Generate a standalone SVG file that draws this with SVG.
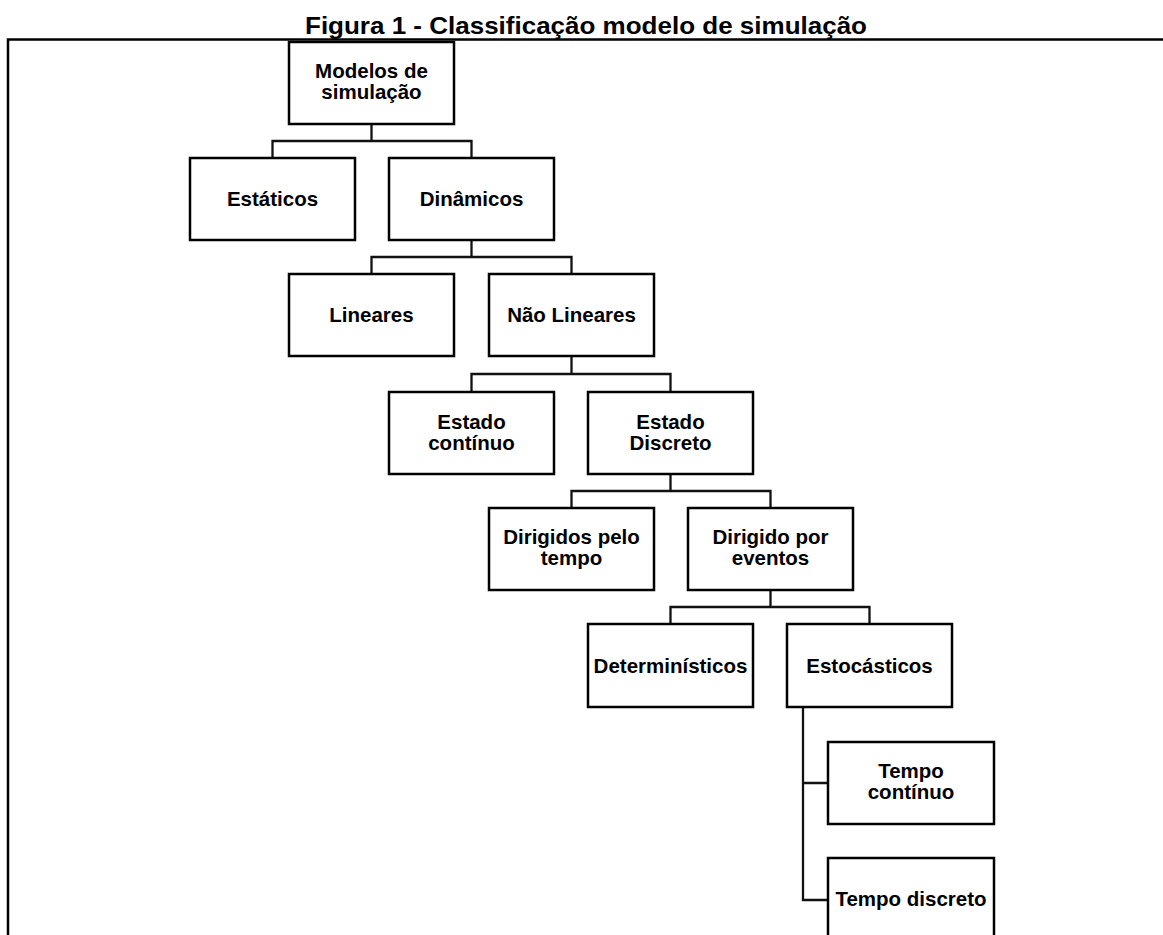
<svg xmlns="http://www.w3.org/2000/svg" width="1163" height="935" viewBox="0 0 1163 935">
<style>
.box{fill:#fff;stroke:#000;stroke-width:2.5}
.t{font-family:"Liberation Sans",Arial,sans-serif;font-weight:bold;font-size:20.5px;fill:#000;text-anchor:middle}
.title{font-family:"Liberation Sans",Arial,sans-serif;font-weight:bold;font-size:24px;fill:#000}
.c{fill:none;stroke:#111;stroke-width:2.3}
.frame{fill:none;stroke:#000;stroke-width:2.5}
</style>
<rect width="1163" height="935" fill="#fff"/>
<text class="title" x="305" y="34" textLength="562" lengthAdjust="spacingAndGlyphs">Figura 1 - Classificação modelo de simulação</text>
<path class="frame" d="M1163,39.5 H8 V935"/>
<g id="connectors">
<path class="c" d="M371.5,124 V141 M272.5,158 V141 H471.5 V158"/>
<path class="c" d="M471.5,240 V257 M371.5,274 V257 H571.5 V274"/>
<path class="c" d="M571.5,356 V374 M471.5,391 V374 H670.5 V392"/>
<path class="c" d="M670.5,474 V491 M571.5,508 V491 H770.5 V508"/>
<path class="c" d="M770.5,590 V607 M670.5,624 V607 H869.5 V624"/>
<path class="c" d="M803,707 V900 H828 M803,783 H828"/>
</g>
<g id="n-modelos"><rect class="box" x="289" y="42" width="165" height="82"/><text class="t" x="371.5" y="77.5">Modelos de</text><text class="t" x="371.5" y="98.5">simulação</text></g>
<g id="n-estaticos"><rect class="box" x="190" y="158" width="165" height="82"/><text class="t" x="272.5" y="206">Estáticos</text></g>
<g id="n-dinamicos"><rect class="box" x="389" y="158" width="165" height="82"/><text class="t" x="471.5" y="206">Dinâmicos</text></g>
<g id="n-lineares"><rect class="box" x="289" y="274" width="165" height="82"/><text class="t" x="371.5" y="322">Lineares</text></g>
<g id="n-naolineares"><rect class="box" x="489" y="274" width="165" height="82"/><text class="t" x="571.5" y="322">Não Lineares</text></g>
<g id="n-estadocontinuo"><rect class="box" x="389" y="392" width="165" height="82"/><text class="t" x="471.5" y="429">Estado</text><text class="t" x="471.5" y="450">contínuo</text></g>
<g id="n-estadodiscreto"><rect class="box" x="588" y="392" width="165" height="82"/><text class="t" x="670.5" y="429">Estado</text><text class="t" x="670.5" y="450">Discreto</text></g>
<g id="n-dirigidostempo"><rect class="box" x="489" y="508" width="165" height="82"/><text class="t" x="571.5" y="544">Dirigidos pelo</text><text class="t" x="571.5" y="565">tempo</text></g>
<g id="n-dirigidoeventos"><rect class="box" x="688" y="508" width="165" height="82"/><text class="t" x="770.5" y="544">Dirigido por</text><text class="t" x="770.5" y="565">eventos</text></g>
<g id="n-deterministicos"><rect class="box" x="588" y="624" width="165" height="83"/><text class="t" x="670.5" y="673">Determinísticos</text></g>
<g id="n-estocasticos"><rect class="box" x="787" y="624" width="165" height="83"/><text class="t" x="869.5" y="673">Estocásticos</text></g>
<g id="n-tempocontinuo"><rect class="box" x="828" y="742" width="166" height="82"/><text class="t" x="911" y="778">Tempo</text><text class="t" x="911" y="799">contínuo</text></g>
<g id="n-tempodiscreto"><rect class="box" x="828" y="858" width="166" height="82"/><text class="t" x="911" y="906">Tempo discreto</text></g>
</svg>
